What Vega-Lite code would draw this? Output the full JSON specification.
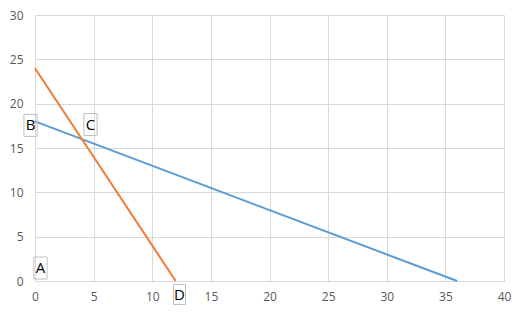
{
  "$schema": "https://vega.github.io/schema/vega-lite/v6.json",
  "width": 469,
  "height": 266,
  "autosize": "none",
  "padding": {"left": 35, "top": 15, "right": 26, "bottom": 35},
  "background": "white",
  "config": {
    "view": {"stroke": null},
    "font": "Open Sans",
    "axis": {
      "gridColor": "#d9d9d9",
      "gridWidth": 1,
      "ticks": false,
      "labelColor": "#595959",
      "labelFontSize": 12,
      "labelFont": "Open Sans",
      "title": null
    }
  },
  "datasets": {
    "lines": [
      {"x": 0, "y": 18, "series": "Line 1"},
      {"x": 36, "y": 0, "series": "Line 1"},
      {"x": 0, "y": 24, "series": "Line 2"},
      {"x": 12, "y": 0, "series": "Line 2"}
    ],
    "labels": [
      {"x": 0, "y": 0, "label": "A", "pos": "A"},
      {"x": 0, "y": 18, "label": "B", "pos": "B"},
      {"x": 4, "y": 16, "label": "C", "pos": "C"},
      {"x": 12, "y": 0, "label": "D", "pos": "D"}
    ]
  },
  "layer": [
    {
      "data": {"name": "lines"},
      "mark": {"type": "line", "strokeWidth": 2, "clip": false},
      "encoding": {
        "x": {"field": "x", "type": "quantitative", "scale": {"domain": [0, 40], "nice": false}, "axis": {"values": [0, 5, 10, 15, 20, 25, 30, 35, 40], "labelPadding": 10, "domain": true, "domainColor": "#d9d9d9", "labelFlush": false}},
        "y": {"field": "y", "type": "quantitative", "scale": {"domain": [0, 30], "nice": false}, "axis": {"values": [0, 5, 10, 15, 20, 25, 30], "labelPadding": 12, "domain": false}},
        "color": {"field": "series", "type": "nominal", "scale": {"domain": ["Line 1", "Line 2"], "range": ["#5b9bd5", "#ed7d31"]}, "legend": null}
      }
    },
    {
      "data": {"name": "labels"},
      "transform": [{"filter": "datum.pos == 'A'"}],
      "layer": [
        {"mark": {"type": "point", "shape": "M-0.6,-1H0.6V1H-0.6Z", "size": 484, "filled": false, "stroke": "#bfbfbf", "strokeWidth": 1, "xOffset": 5.5, "yOffset": -13, "opacity": 1}},
        {"mark": {"type": "text", "fontSize": 15, "color": "#000000", "dx": 5.5, "dy": -13, "align": "center", "baseline": "middle"}, "encoding": {"text": {"field": "label"}}}
      ],
      "encoding": {"x": {"field": "x", "type": "quantitative"}, "y": {"field": "y", "type": "quantitative"}}
    },
    {
      "data": {"name": "labels"},
      "transform": [{"filter": "datum.pos == 'B'"}],
      "layer": [
        {"mark": {"type": "point", "shape": "M-0.6,-1H0.6V1H-0.6Z", "size": 484, "filled": false, "stroke": "#bfbfbf", "strokeWidth": 1, "xOffset": -4.5, "yOffset": 4, "opacity": 1}},
        {"mark": {"type": "text", "fontSize": 15, "color": "#000000", "dx": -4.5, "dy": 4, "align": "center", "baseline": "middle"}, "encoding": {"text": {"field": "label"}}}
      ],
      "encoding": {"x": {"field": "x", "type": "quantitative"}, "y": {"field": "y", "type": "quantitative"}}
    },
    {
      "data": {"name": "labels"},
      "transform": [{"filter": "datum.pos == 'C'"}],
      "layer": [
        {"mark": {"type": "point", "shape": "M-0.6,-1H0.6V1H-0.6Z", "size": 484, "filled": false, "stroke": "#bfbfbf", "strokeWidth": 1, "xOffset": 8.6, "yOffset": -14.6, "opacity": 1}},
        {"mark": {"type": "text", "fontSize": 15, "color": "#000000", "dx": 8.6, "dy": -14.6, "align": "center", "baseline": "middle"}, "encoding": {"text": {"field": "label"}}}
      ],
      "encoding": {"x": {"field": "x", "type": "quantitative"}, "y": {"field": "y", "type": "quantitative"}}
    },
    {
      "data": {"name": "labels"},
      "transform": [{"filter": "datum.pos == 'D'"}],
      "layer": [
        {"mark": {"type": "point", "shape": "M-0.6,-1H0.6V1H-0.6Z", "size": 400, "filled": false, "stroke": "#bfbfbf", "strokeWidth": 1, "xOffset": 3.8, "yOffset": 13.5, "opacity": 1}},
        {"mark": {"type": "text", "fontSize": 15, "color": "#000000", "dx": 3.8, "dy": 13.5, "align": "center", "baseline": "middle"}, "encoding": {"text": {"field": "label"}}}
      ],
      "encoding": {"x": {"field": "x", "type": "quantitative"}, "y": {"field": "y", "type": "quantitative"}}
    }
  ]
}
